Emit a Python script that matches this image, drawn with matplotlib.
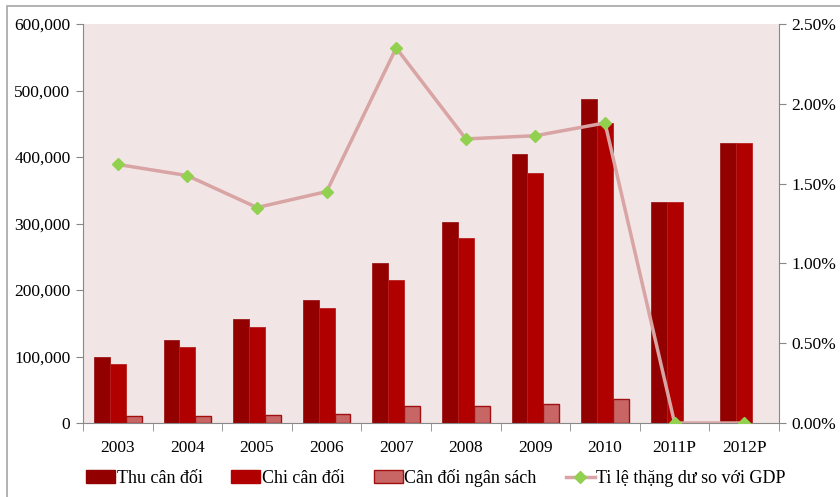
import matplotlib.pyplot as plt
import numpy as np
from matplotlib.patches import Rectangle
from matplotlib.lines import Line2D
from matplotlib.ticker import FuncFormatter

plt.rcParams['font.family'] = ['Liberation Serif', 'DejaVu Serif']

years = ["2003", "2004", "2005", "2006", "2007", "2008", "2009", "2010", "2011P", "2012P"]
thu = [99000, 124500, 156000, 185500, 240500, 303000, 405000, 487000, 332000, 420500]
chi = [88500, 114000, 145000, 172500, 214500, 277500, 376000, 451500, 332000, 420500]
can_doi = [10000, 10500, 11500, 14000, 26000, 25500, 28000, 35500, 0, 0]
ti_le = [1.62, 1.55, 1.35, 1.45, 2.35, 1.78, 1.80, 1.88, 0.0, 0.0]

labels = ["Thu cân đối", "Chi cân đối", "Cân đối ngân sách", "Ti lệ thặng dư so với GDP"]

fig = plt.figure(figsize=(8.4, 4.97), dpi=100)
fig.patches.append(Rectangle((7 / 840, -0.01), 1, 1 - 6 / 497 + 0.01, transform=fig.transFigure,
                             fill=False, edgecolor='#a6a6a6', linewidth=1.2))
ax = fig.add_axes([83 / 840, 1 - 423 / 497, 696 / 840, 399 / 497])
ax.set_facecolor('#f2e5e5')

x = np.arange(len(years))
w = 0.228
ax.bar(x - w, thu, w, color='#920000', edgecolor='#9a1a1a', linewidth=0.6, zorder=2)
ax.bar(x, chi, w, color='#b00000', edgecolor='#b82020', linewidth=0.6, zorder=2)
cd = np.array(can_doi)
mask = cd > 0
ax.bar(x[mask] + w, cd[mask], w, color='#c86666', edgecolor='#a01010', linewidth=1.0, zorder=2)

ax.set_xlim(-0.5, len(years) - 0.5)
ax.set_ylim(0, 600000)
ax.set_yticks(np.arange(0, 600001, 100000))
ax.yaxis.set_major_formatter(FuncFormatter(lambda v, p: f"{int(v):,}"))
ax.set_xticks(x)
ax.set_xticklabels(years)
ax.set_xticks(np.arange(-0.5, len(years), 1), minor=True)
ax.tick_params(axis='x', which='major', length=0, pad=12, labelsize=12.5)
ax.tick_params(axis='x', which='minor', length=6, color='#888888', direction='out')
ax.tick_params(axis='y', length=5, color='#888888', labelsize=12.5, pad=4)

for s in ['top', 'right']:
    ax.spines[s].set_visible(False)
ax.spines['left'].set_color('#888888')
ax.spines['bottom'].set_color('#888888')

ax2 = ax.twinx()
ax2.plot(x, ti_le, color='#d8a4a4', linewidth=2.5, marker='D', markersize=6,
         markerfacecolor='#92d050', markeredgecolor='#92d050', zorder=3)
ax2.set_ylim(0, 2.5)
ax2.set_yticks(np.arange(0, 2.51, 0.5))
ax2.yaxis.set_major_formatter(FuncFormatter(lambda v, p: f"{v:.2f}%"))
ax2.tick_params(axis='y', length=5, color='#888888', labelsize=12.5, pad=4)
for s in ['top', 'left', 'bottom']:
    ax2.spines[s].set_visible(False)
ax2.spines['right'].set_color('#888888')

handles = [
    Rectangle((0, 0), 1, 1, facecolor='#920000', edgecolor='#920000'),
    Rectangle((0, 0), 1, 1, facecolor='#b00000', edgecolor='#b00000'),
    Rectangle((0, 0), 1, 1, facecolor='#c86666', edgecolor='#a01010'),
    Line2D([], [], color='#d8a4a4', linewidth=2.5, marker='D', markersize=6,
           markerfacecolor='#92d050', markeredgecolor='#92d050'),
]
fig.legend(handles, labels, loc='center', bbox_to_anchor=(0.519, 1 - 478 / 497), ncol=4,
           frameon=False, fontsize=13, handlelength=1.6, handleheight=0.7,
           handletextpad=0.1, columnspacing=1.6)

fig.savefig("out.png", dpi=100, facecolor='white')
